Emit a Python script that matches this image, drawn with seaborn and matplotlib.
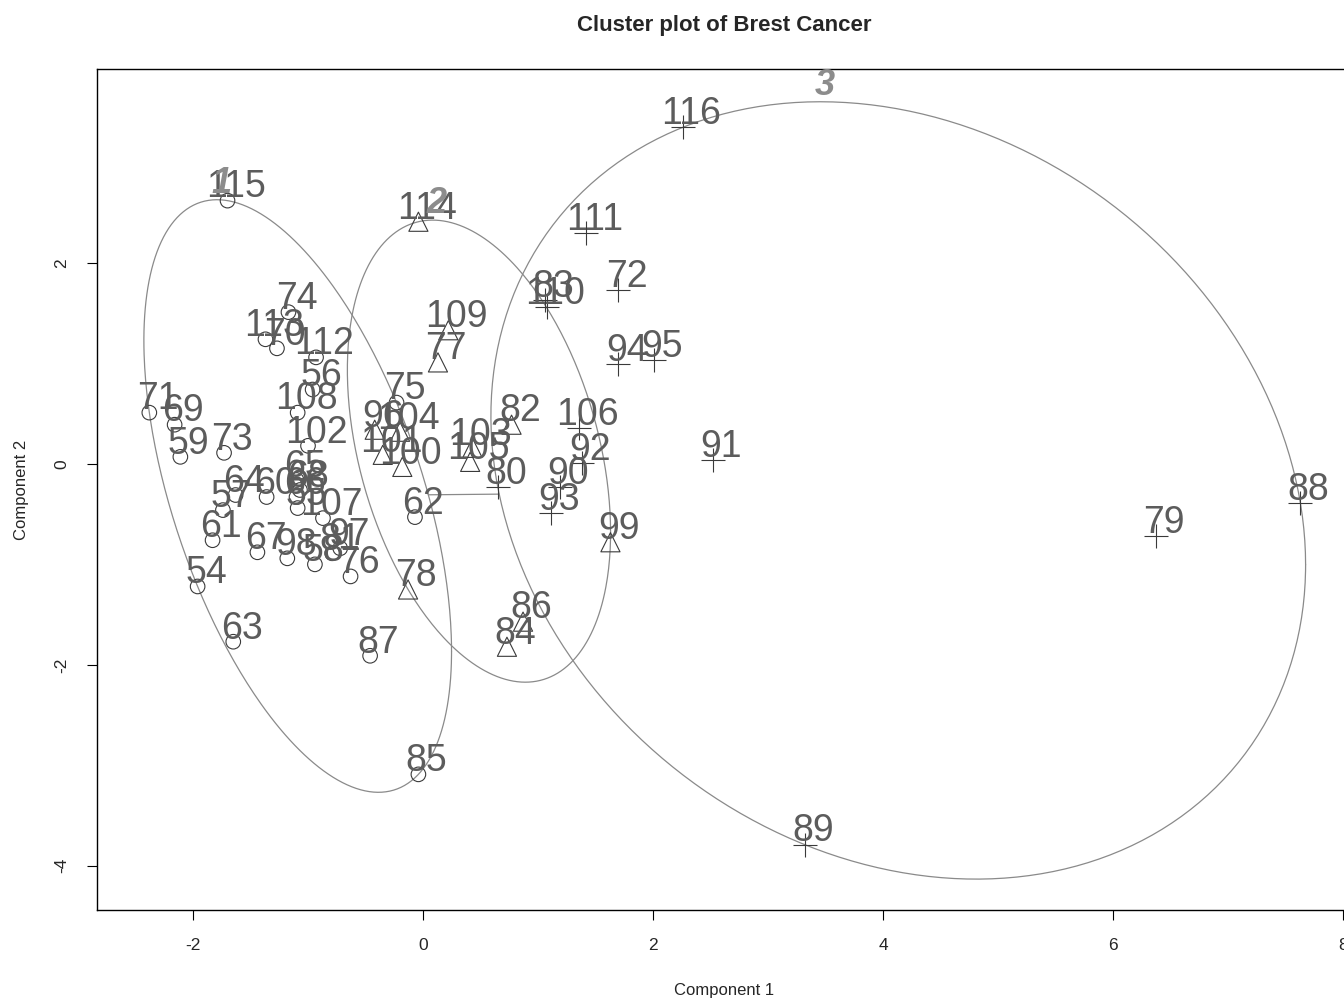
import numpy as np
import pandas as pd
import matplotlib
matplotlib.use("Agg")
import matplotlib.pyplot as plt
import seaborn as sns

# Points of the clusplot (component scores)
labels = [115, 74, 113, 70, 112, 56, 108, 71, 69, 59, 73, 102, 64, 60, 65, 68,
          66, 55, 107, 57, 61, 67, 98, 58, 81, 97, 76, 54, 63, 87, 85, 75, 62,
          114, 109, 77, 96, 104, 101, 100, 103, 105, 82, 78, 84, 86, 99,
          116, 111, 110, 83, 72, 94, 95, 106, 92, 90, 93, 80, 91, 79, 88, 89]
comp1 = [-1.70, -1.17, -1.37, -1.27, -0.93, -0.96, -1.09, -2.38, -2.16, -2.11,
         -1.73, -1.00, -1.63, -1.36, -1.10, -1.07, -1.10, -1.09, -0.87, -1.74,
         -1.83, -1.44, -1.18, -0.94, -0.79, -0.72, -0.63, -1.96, -1.65, -0.46,
         -0.04, -0.23, -0.07,
         -0.04, 0.22, 0.13, -0.42, -0.20, -0.35, -0.18, 0.43, 0.41, 0.77, -0.13,
         0.73, 0.87, 1.63,
         2.26, 1.42, 1.08, 1.06, 1.70, 1.70, 2.01, 1.36, 1.38, 1.19, 1.11, 0.65,
         2.52, 6.37, 7.63, 3.32]
comp2 = [2.62, 1.51, 1.24, 1.15, 1.06, 0.74, 0.51, 0.51, 0.39, 0.07,
         0.11, 0.18, -0.31, -0.33, -0.16, -0.26, -0.33, -0.44, -0.54, -0.46,
         -0.76, -0.88, -0.94, -1.00, -0.89, -0.84, -1.12, -1.22, -1.77, -1.91,
         -3.09, 0.61, -0.53,
         2.41, 1.33, 1.01, 0.34, 0.32, 0.09, -0.03, 0.16, 0.02, 0.39, -1.25,
         -1.82, -1.57, -0.78,
         3.35, 2.30, 1.56, 1.63, 1.73, 0.99, 1.03, 0.36, 0.01, -0.23, -0.49,
         -0.23, 0.04, -0.72, -0.39, -3.79]
cluster = [1] * 33 + [2] * 14 + [3] * 16

df = pd.DataFrame({"label": labels, "comp1": comp1, "comp2": comp2,
                   "cluster": cluster})


def mvee(pts, tol=1e-7, max_iter=50000):
    # minimum volume enclosing ellipse (Khachiyan), like ellipsoidhull in R
    n, d = pts.shape
    Q = np.vstack([pts.T, np.ones(n)])
    u = np.ones(n) / n
    for _ in range(max_iter):
        X = Q @ np.diag(u) @ Q.T
        M = np.einsum("ij,ji->i", Q.T @ np.linalg.inv(X), Q)
        j = np.argmax(M)
        step = (M[j] - d - 1) / ((d + 1) * (M[j] - 1))
        new_u = (1 - step) * u
        new_u[j] += step
        err = np.linalg.norm(new_u - u)
        u = new_u
        if err < tol:
            break
    c = pts.T @ u
    A = np.linalg.inv(pts.T @ np.diag(u) @ pts - np.outer(c, c)) / d
    return c, A


sns.set_style("white")
plt.rcParams["font.family"] = ["Liberation Sans", "DejaVu Sans"]
plt.rcParams["axes.unicode_minus"] = False

fig = plt.figure(figsize=(13.44, 9.98), dpi=100)
ax = fig.add_axes([97 / 1344, 88 / 998, 1254 / 1344, 841 / 998])

mk = {1: ("o", 110), 2: ("^", 190), 3: ("+", 300)}
pt_col = "#3a3a3a"
for k, (m, s) in mk.items():
    sub = df[df["cluster"] == k]
    if m == "+":
        sns.scatterplot(data=sub, x="comp1", y="comp2", marker=m, s=s,
                        color=pt_col, linewidth=0.8, ax=ax, zorder=3)
    else:
        sns.scatterplot(data=sub, x="comp1", y="comp2", marker=m, s=s,
                        fc="none", ec=pt_col, linewidth=0.8, ax=ax, zorder=3)

for lab, x, y in zip(labels, comp1, comp2):
    ax.annotate(str(lab), (x, y), xytext=(6, 9.5),
                textcoords="offset points", ha="center", va="center",
                fontsize=27, color="#5c5c5c", zorder=4)

# ellipses around clusters
t = np.linspace(0, 2 * np.pi, 400)
ells = {}
for k in [1, 2, 3]:
    sub = df[df["cluster"] == k]
    c, A = mvee(sub[["comp1", "comp2"]].to_numpy())
    ells[k] = (c, A)
    S = np.linalg.inv(A)
    L = np.linalg.cholesky(S)
    e = c[:, None] + L @ np.vstack([np.cos(t), np.sin(t)])
    ax.plot(e[0], e[1], color="#8a8a8a", lw=0.9, zorder=2)
    top = c + np.array([S[0, 1], S[1, 1]]) / np.sqrt(S[1, 1])
    ax.annotate(str(k), top, xytext=(3, 12), textcoords="offset points",
                ha="center", va="center", fontsize=26, fontweight="bold",
                fontstyle="italic", color="#8c8c8c", zorder=5)

# distance segments between non-overlapping ellipses
for i, j in [(1, 2), (1, 3), (2, 3)]:
    ci, Ai = ells[i]
    cj, Aj = ells[j]
    dvec = cj - ci
    dist = np.linalg.norm(dvec)
    dvec = dvec / dist
    ti = 1 / np.sqrt(dvec @ Ai @ dvec)
    tj = 1 / np.sqrt(dvec @ Aj @ dvec)
    if ti + tj < dist:
        p1 = ci + ti * dvec
        p2 = cj - tj * dvec
        ax.plot([p1[0], p2[0]], [p1[1], p2[1]], color="#8a8a8a", lw=0.9,
                zorder=2)

ax.set_xlim(-2.835, 8.07)
ax.set_ylim(-4.44, 3.93)
ax.set_xticks([-2, 0, 2, 4, 6, 8])
ax.set_yticks([-4, -2, 0, 2])
ax.tick_params(direction="out", length=7, width=0.8, labelsize=12.5,
               pad=13, color="black", bottom=True, left=True)
for lab in ax.get_yticklabels():
    lab.set_rotation(90)
    lab.set_va("center")
for sp in ax.spines.values():
    sp.set_color("black")
    sp.set_linewidth(1.0)
ax.set_xlabel("Component 1", fontsize=12, labelpad=22)
ax.set_ylabel("Component 2", fontsize=12, labelpad=18)
fig.text(724 / 1344, 1 - 25 / 998, "Cluster plot of Brest Cancer",
         ha="center", va="center", fontsize=16, fontweight="bold")

fig.savefig("out.png", dpi=100)
